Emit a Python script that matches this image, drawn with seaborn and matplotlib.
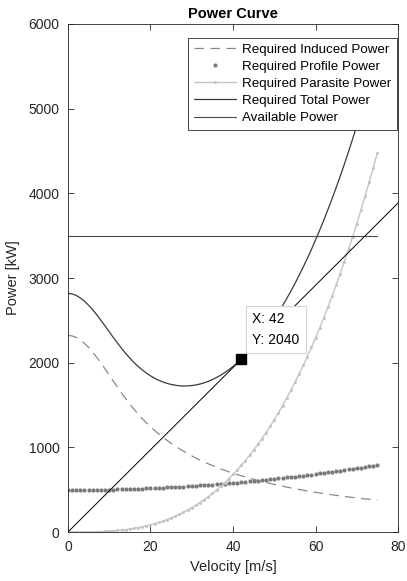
import matplotlib
matplotlib.use("Agg")
import matplotlib.pyplot as plt
import seaborn as sns

# velocity [m/s], one point per m/s
velocity = list(range(0, 76))

induced_power = [2322, 2316, 2298, 2268, 2228, 2180, 2124, 2062, 1995, 1925,
                 1853, 1781, 1710, 1641, 1574, 1510, 1450, 1393, 1340, 1290,
                 1243, 1199, 1158, 1119, 1083, 1048, 1015, 984, 955, 927,
                 900, 874, 850, 827, 806, 786, 766, 746, 728, 711,
                 695, 679, 664, 650, 636, 623, 610, 598, 586, 574,
                 563, 552, 541, 531, 521, 512, 503, 494, 485, 477,
                 469, 461, 454, 447, 440, 433, 427, 420, 414, 408,
                 402, 396, 391, 386, 380, 375]

profile_power = [496, 496, 496, 496, 497, 497, 498, 499, 499, 500,
                 501, 502, 504, 505, 506, 508, 509, 511, 513, 515,
                 517, 519, 521, 524, 526, 529, 532, 534, 537, 540,
                 543, 547, 550, 553, 557, 560, 564, 568, 572, 576,
                 580, 584, 589, 593, 598, 603, 607, 612, 617, 622,
                 628, 633, 638, 644, 649, 655, 661, 667, 673, 679,
                 685, 692, 698, 705, 711, 718, 725, 732, 739, 746,
                 754, 761, 769, 776, 784, 792]

parasite_power = [0, 0, 0, 0, 1, 1, 2, 4, 5, 8,
                  11, 14, 18, 23, 29, 36, 43, 52, 62, 73,
                  85, 98, 113, 129, 147, 166, 187, 209, 233, 259,
                  287, 316, 348, 382, 417, 455, 495, 538, 583, 630,
                  680, 732, 787, 844, 905, 968, 1034, 1103, 1175, 1250,
                  1328, 1409, 1493, 1581, 1672, 1767, 1865, 1967, 2072, 2181,
                  2294, 2411, 2531, 2656, 2784, 2917, 3053, 3194, 3339, 3489,
                  3643, 3801, 3964, 4132, 4304, 4480]

total_power = [2818, 2812, 2794, 2764, 2726, 2678, 2624, 2565, 2499, 2433,
               2365, 2297, 2232, 2169, 2109, 2054, 2002, 1956, 1915, 1878,
               1845, 1816, 1792, 1772, 1756, 1743, 1734, 1727, 1725, 1726,
               1730, 1737, 1748, 1762, 1780, 1801, 1825, 1852, 1883, 1917,
               1955, 1995, 2040, 2087, 2139, 2194, 2251, 2313, 2378, 2446,
               2519, 2594, 2672, 2756, 2842, 2934, 3029, 3128, 3230, 3337,
               3448, 3564, 3683, 3808, 3935, 4068, 4205, 4346, 4492, 4643,
               4799, 4958, 5124, 5294, 5468, 5647]

available_power = [3500] * len(velocity)

# tangent from the origin through the best-range point
tip_v = 42
tip_p = 2040
tangent_v = [0, 85]
tangent_p = [0, tip_p / tip_v * 85]

sns.set_style("ticks")
plt.rcParams['font.family'] = ['Liberation Sans', 'DejaVu Sans']
plt.rcParams['lines.scale_dashes'] = False
txt = '#262626'

fig = plt.figure(figsize=(4.07, 5.81), dpi=100)
ax = fig.add_axes([0.167, 0.0843, 0.811, 0.8744])

sns.lineplot(x=velocity, y=induced_power, ax=ax, color='#8a8a8a', lw=0.9,
             linestyle=(0, (7, 4.5)), label='Required Induced Power')
sns.lineplot(x=velocity, y=profile_power, ax=ax, color='#7a7a7a', linestyle='',
             marker='o', markersize=3.0, markeredgewidth=0, label='Required Profile Power')
sns.lineplot(x=velocity, y=parasite_power, ax=ax, color='#c4c4c4', lw=1.0,
             marker='o', markersize=2.2, markeredgewidth=0, label='Required Parasite Power')
sns.lineplot(x=velocity, y=total_power, ax=ax, color='#3a3a3a', lw=0.9,
             label='Required Total Power')
sns.lineplot(x=velocity, y=available_power, ax=ax, color='#4a4a4a', lw=0.8,
             label='Available Power')
ax.plot(tangent_v, tangent_p, color='black', lw=0.7, zorder=3)

ax.plot(tip_v, tip_p, 's', color='black', ms=7, zorder=6)
ax.annotate('X: %d\nY: %d' % (tip_v, tip_p), xy=(tip_v, tip_p), xytext=(8, 9),
            textcoords='offset points', ha='left', va='bottom', fontsize=10,
            color='black', linespacing=1.6, zorder=7,
            bbox=dict(boxstyle='square,pad=0.45', fc='white', ec='#d4d4d4', lw=0.8))

ax.set_xlim(0, 80)
ax.set_ylim(0, 6000)
ax.set_xticks([0, 20, 40, 60, 80])
ax.set_yticks([0, 1000, 2000, 3000, 4000, 5000, 6000])
ax.tick_params(direction='in', length=4, width=0.6, colors=txt, labelsize=10,
               top=True, right=True, labeltop=False, labelright=False, pad=6)
for s in ax.spines.values():
    s.set_visible(True)
    s.set_linewidth(0.6)
    s.set_color(txt)

ax.set_title('Power Curve', fontsize=10.5, fontweight='bold', color='black', pad=4)
ax.set_xlabel('Velocity [m/s]', fontsize=10.5, color=txt, labelpad=4)
ax.set_ylabel('Power [kW]', fontsize=10.5, color=txt, labelpad=6)

leg = ax.legend(loc='upper right', bbox_to_anchor=(0.997, 0.9724), fontsize=9.6,
                frameon=True, fancybox=False, framealpha=1, edgecolor='#262626',
                handlelength=3.2, handletextpad=0.45, labelspacing=0.36,
                borderpad=0.4, borderaxespad=0)
leg.get_frame().set_linewidth(0.6)
leg.set_zorder(8)
for t in leg.get_texts():
    t.set_color('black')

fig.savefig('out.png', dpi=100)
